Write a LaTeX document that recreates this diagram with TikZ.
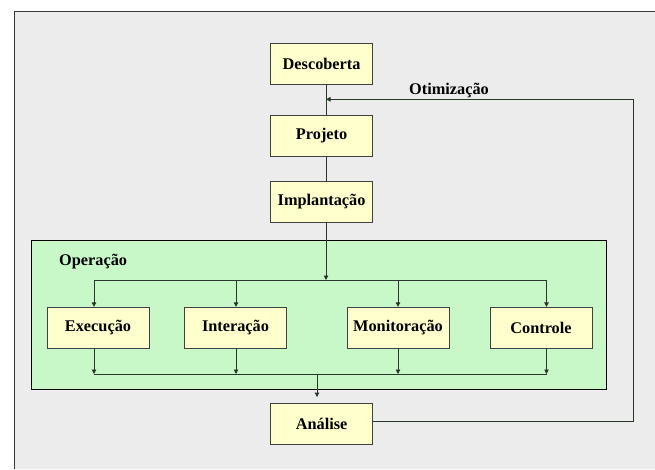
\documentclass[tikz,border=0pt]{standalone}
\usepackage{fontspec}
\setmainfont{Liberation Serif}
\usetikzlibrary{arrows.meta,calc}
\definecolor{pagebg}{RGB}{236,236,236}
\definecolor{framecol}{RGB}{55,55,55}
\definecolor{opfill}{RGB}{200,248,200}
\definecolor{boxfill}{RGB}{255,255,206}
\definecolor{boxline}{RGB}{65,65,65}
\definecolor{flowcol}{RGB}{40,55,40}
\tikzset{
  stagebox/.style={draw=boxline, line width=0.9pt, fill=boxfill,
    minimum width=102pt, minimum height=41pt, inner sep=0pt,
    font=\fontsize{16.3}{19}\selectfont\bfseries},
  flow/.style={draw=flowcol, line width=0.9pt},
  flowarrow/.style={flow, -{Triangle[length=4.5pt,width=4.5pt]}},
  lbl/.style={font=\fontsize{16.3}{19}\selectfont\bfseries, inner sep=0pt}
}
\begin{document}
\begin{tikzpicture}[x=1pt,y=-1pt]
  \useasboundingbox (0,0) rectangle (655,469);
  % page and frame
  \fill[white] (0,0) rectangle (655,469);
  \fill[pagebg] (14.5,11.7) rectangle (655,469);
  \draw[framecol, line width=1.4pt] (14.5,469) -- (14.5,11.7) -- (655,11.7);

  % operation block
  \node[draw=black, line width=0.9pt, fill=opfill, minimum width=575.3pt,
        minimum height=149.3pt, inner sep=0pt] (op) at (319,314.7) {};
  \node[lbl, anchor=base west] (oplbl) at (59,265) {Operação};

  % main stages
  \node[stagebox] (desc) at (321.6,63.7) {Descoberta};
  \node[stagebox] (proj) at (321.6,135.7) {Projeto};
  \node[stagebox] (impl) at (321.6,202) {Implantação};
  \node[stagebox] (anal) at (321.6,424) {Análise};

  % operation stages
  \node[stagebox] (exec) at (98,327.8) {Execução};
  \node[stagebox] (inter) at (235.5,327.8) {Interação};
  \node[stagebox] (mon) at (398,327.8) {Monitoração};
  \node[stagebox] (ctrl) at (541,327.8) {Controle};

  % bus junctions
  \coordinate (split) at (326,280);
  \coordinate (join) at (317,374);
  \coordinate (fbtop) at (633,99.3);

  % vertical flow of the main stages
  \draw[flow] ([xshift=4.4pt]desc.south) -- ([xshift=4.4pt]proj.north);
  \draw[flow] ([xshift=4.4pt]proj.south) -- ([xshift=4.4pt]impl.north);
  \draw[flowarrow] ([xshift=4.4pt]impl.south) -- (split);

  % distribution bus
  \draw[flow] ([xshift=-4pt]exec.north |- split) -- ([xshift=5.5pt]ctrl.north |- split);
  \draw[flowarrow] ([xshift=-4pt]exec.north |- split) -- ([xshift=-4pt]exec.north);
  \draw[flowarrow] ([xshift=0.5pt]inter.north |- split) -- ([xshift=0.5pt]inter.north);
  \draw[flowarrow] (mon.north |- split) -- (mon.north);
  \draw[flowarrow] ([xshift=5.5pt]ctrl.north |- split) -- ([xshift=5.5pt]ctrl.north);

  % collecting bus
  \draw[flowarrow] ([xshift=-4pt]exec.south) -- ([xshift=-4pt]exec.south |- join);
  \draw[flowarrow] ([xshift=0.5pt]inter.south) -- ([xshift=0.5pt]inter.south |- join);
  \draw[flowarrow] (mon.south) -- (mon.south |- join);
  \draw[flowarrow] ([xshift=5.5pt]ctrl.south) -- ([xshift=5.5pt]ctrl.south |- join);
  \draw[flow] ([xshift=-4pt]exec.south |- join) -- ([xshift=5.5pt]ctrl.south |- join);
  \draw[flowarrow, shorten >=6pt] (join) -- (join |- anal.north);

  % optimisation feedback loop
  \draw[flowarrow] (anal.east |- 0,421.7) -| (fbtop) -- ([xshift=4.4pt]desc.south |- fbtop);
  \node[lbl, anchor=base west] (optlbl) at (409,94) {Otimização};
\end{tikzpicture}
\end{document}
